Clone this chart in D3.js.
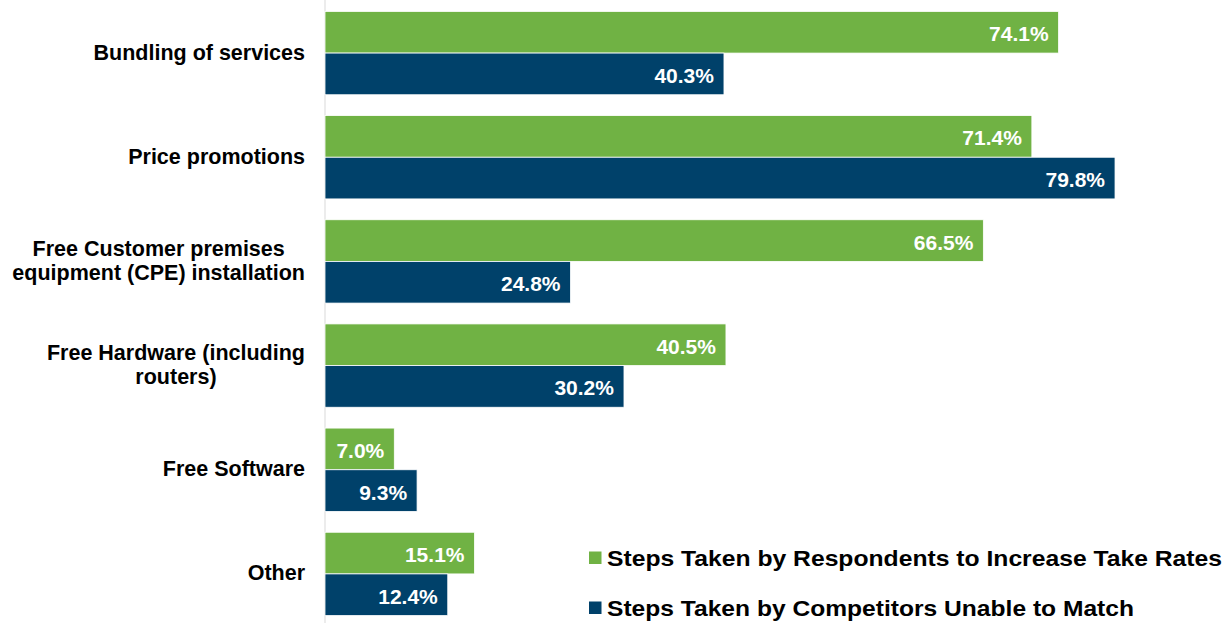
<!DOCTYPE html>
<html>
<head>
<meta charset="utf-8">
<script src="https://cdn.jsdelivr.net/npm/d3@7"></script>
<style>
  html, body { margin: 0; padding: 0; background: #fff; }
  svg { display: block; font-family: "Liberation Sans", Arial, sans-serif; }
</style>
</head>
<body>
<svg id="chart" width="1229" height="623"></svg>
<script>
// Categories (line breaks mark wrapped labels)
const categories = [
  "Bundling of services",
  "Price promotions",
  "Free Customer premises\nequipment (CPE) installation",
  "Free Hardware (including\nrouters)",
  "Free Software",
  "Other"
];
const seriesNames = [
  "Steps Taken by Respondents to Increase Take Rates",
  "Steps Taken by Competitors Unable to Match"
];
const respondents = [74.1, 71.4, 66.5, 40.5, 7.0, 15.1];
const competitors = [40.3, 79.8, 24.8, 30.2, 9.3, 12.4];

const colors = ["#70B244", "#00416A"];

const svg = d3.select("#chart");

const x = d3.scaleLinear().domain([0, 100]).range([325, 1315]);
const y = d3.scaleBand().domain(categories).range([1, 626])
  .paddingInner(0.2).paddingOuter(0.1);
const sub = d3.scaleBand().domain([0, 1]).range([0, y.bandwidth()]);

// Vertical category axis line
svg.append("line")
  .attr("x1", x(0)).attr("x2", x(0))
  .attr("y1", 0).attr("y2", 623)
  .attr("stroke", "#D9D9D9").attr("stroke-width", 1);

const rows = categories.map((c, i) => ({ c, vals: [respondents[i], competitors[i]] }));

const g = svg.selectAll("g.row").data(rows).join("g")
  .attr("class", "row")
  .attr("transform", d => `translate(0,${y(d.c)})`);

g.selectAll("rect").data(d => d.vals).join("rect")
  .attr("x", x(0))
  .attr("y", (v, j) => sub(j))
  .attr("width", v => x(v) - x(0))
  .attr("height", sub.bandwidth())
  .attr("fill", (v, j) => colors[j])
  .attr("stroke", "#fff")
  .attr("stroke-width", 0.8);

g.selectAll("text.val").data(d => d.vals).join("text")
  .attr("class", "val")
  .attr("x", v => x(v) - 10)
  .attr("y", (v, j) => sub(j) + sub.bandwidth() / 2 + 9)
  .attr("text-anchor", "end")
  .attr("fill", "#fff")
  .attr("font-weight", "bold")
  .attr("font-size", "21px")
  .text(v => v.toFixed(1) + "%");

// Category labels: right edge of the block at 305, wrapped lines centred within it
const labelRight = 305;
svg.selectAll("text.cat").data(categories).join("text")
  .attr("class", "cat")
  .attr("font-weight", "bold")
  .attr("font-size", "21.5px")
  .attr("fill", "#000")
  .each(function(c) {
    const lines = c.split("\n");
    const cy = y(c) + y.bandwidth() / 2 + 6.5;
    const lh = 23.6;
    const t = d3.select(this);
    const spans = lines.map((ln, k) =>
      t.append("tspan")
        .attr("y", cy + (k - (lines.length - 1) / 2) * lh)
        .text(ln));
    const widths = spans.map(s => s.node().getComputedTextLength());
    const maxW = d3.max(widths);
    spans.forEach(s => s.attr("x", labelRight - maxW / 2).attr("text-anchor", "middle"));
  });

// Legend
const legend = svg.append("g");
const legendBaselines = [566, 616];
const legendWidths = [615, 527];
seriesNames.forEach((name, i) => {
  legend.append("rect")
    .attr("x", 589).attr("y", legendBaselines[i] - 14.5)
    .attr("width", 12.5).attr("height", 12.5)
    .attr("fill", colors[i]);
  legend.append("text")
    .attr("x", 607).attr("y", legendBaselines[i])
    .attr("font-weight", "bold")
    .attr("font-size", "21.5px")
    .attr("fill", "#000")
    .attr("textLength", legendWidths[i])
    .attr("lengthAdjust", "spacingAndGlyphs")
    .text(name);
});
</script>
</body>
</html>
